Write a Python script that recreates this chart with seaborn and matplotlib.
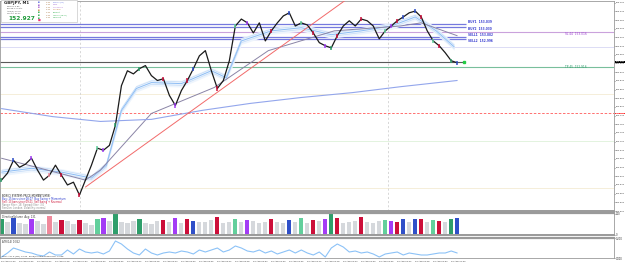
import numpy as np
import seaborn as sns
import matplotlib.pyplot as plt
from matplotlib.patches import Rectangle
from matplotlib.transforms import blended_transform_factory

sns.set_style("white")
plt.rcParams['font.family'] = ['DejaVu Sans']

# GBPJPY M1, one close every second minute
close = [152.589, 152.609, 152.646, 152.626, 152.635, 152.652, 152.618, 152.589, 152.603, 152.632,
         152.603, 152.575, 152.583, 152.546, 152.589, 152.632, 152.681, 152.675, 152.689, 152.747,
         152.861, 152.904, 152.895, 152.910, 152.919, 152.890, 152.876, 152.881, 152.833, 152.804,
         152.847, 152.876, 152.910, 152.947, 152.962, 152.904, 152.853, 152.876, 152.933, 153.033,
         153.053, 153.042, 153.013, 153.042, 152.990, 153.019, 153.042, 153.062, 153.071, 153.033,
         153.042, 153.036, 153.013, 152.985, 152.976, 152.970, 153.005, 153.033, 153.048, 153.033,
         153.053, 153.048, 153.033, 152.996, 153.019, 153.033, 153.048, 153.059, 153.071, 153.076,
         153.059, 153.019, 152.990, 152.976, 152.956, 152.933, 152.927]
minutes = np.arange(len(close)) * 2

fast_x = [0, 10, 20, 30, 35, 40, 45, 50, 60, 70, 75, 80, 90, 100, 110, 120, 130, 138, 145, 151]
fast_ma = [152.612, 152.623, 152.612, 152.595, 152.632, 152.790, 152.853, 152.870, 152.867, 152.904,
           152.884, 152.990, 153.019, 153.028, 153.008, 153.019, 153.033, 153.059, 153.019, 152.973]
mid_x = [0, 13, 28, 33, 50, 71, 89, 111, 133, 140, 152]
mid_ma = [152.652, 152.623, 152.589, 152.618, 152.781, 152.856, 152.962, 153.019, 153.033, 153.042, 153.005]
slow_x = [0, 17, 33, 50, 67, 83, 100, 117, 133, 152]
slow_ma = [152.795, 152.772, 152.758, 152.764, 152.790, 152.810, 152.827, 152.841, 152.858, 152.876]
trend_x = [28, 120]
trend_y = [152.569, 153.140]

buy_levels = [153.039, 153.030]
sell_levels = [153.002, 152.996]
sl_level = 153.016
tp_level = 152.916
bid = 152.930
alert_level = 152.781
lavender_level = 152.973
pale_levels = [152.838, 152.701, 152.566]
session_marks = [26.3, 129]

volume = [150, 120, 160, 110, 100, 150, 130, 105, 175, 120,
          140, 130, 100, 140, 110, 95, 150, 160, 130, 200,
          120, 115, 130, 150, 110, 100, 130, 140, 120, 160,
          110, 150, 130, 125, 120, 140, 165, 110, 120, 150,
          120, 140, 130, 115, 120, 150, 125, 110, 140, 120,
          160, 115, 140, 130, 150, 195, 160, 110, 125, 130,
          170, 120, 115, 130, 140, 135, 125, 145, 120, 150,
          145, 120, 140, 130, 125, 150, 160]
signal_bars = [0, 2, 5, 8, 10, 13, 16, 17, 19, 23, 27, 29, 31, 32, 36, 39, 41, 45, 48, 50,
               52, 54, 55, 56, 60, 64, 65, 66, 67, 69, 70, 72, 73, 75, 76]
signal_kinds = ['green', 'blue', 'purple', 'pink', 'red', 'red', 'teal', 'purple', 'green', 'green',
                'red', 'purple', 'red', 'blue', 'red', 'teal', 'purple', 'red', 'blue', 'teal',
                'red', 'purple', 'green', 'red', 'red', 'teal', 'purple', 'red', 'blue', 'blue',
                'red', 'teal', 'red', 'green', 'blue']

atr = [1, 5, 10, 8, 6, 5, 3, 2, 6, 3, 3, 8, 4, 9, 6, 5, 6, 4, 7, 17,
       14, 9, 5, 3, 9, 5, 3, 5, 6, 5, 7, 6, 4, 8, 6, 8, 10, 6, 8, 12,
       10, 7, 6, 8, 5, 7, 4, 6, 8, 5, 8, 5, 3, 6, 1, 10, 14, 11, 6, 7,
       5, 6, 4, 1, 4, 5, 6, 3, 5, 4, 3, 3, 4, 5, 5, 7, 5]

time_labels = ['23 Aug 07:30', '23 Aug 07:36', '23 Aug 07:42', '23 Aug 07:48', '23 Aug 07:54',
               '23 Aug 08:00', '23 Aug 08:06', '23 Aug 08:12', '23 Aug 08:18', '23 Aug 08:24',
               '23 Aug 08:30', '23 Aug 08:36', '23 Aug 08:42', '23 Aug 08:48', '23 Aug 08:54',
               '23 Aug 09:00', '23 Aug 09:06', '23 Aug 09:12', '23 Aug 09:18', '23 Aug 09:24',
               '23 Aug 09:30', '23 Aug 09:36', '23 Aug 09:42', '23 Aug 09:48', '23 Aug 09:54',
               '23 Aug 10:00']

palette = {'gray': '#d5d8dc', 'green': '#2f9e6b', 'teal': '#62cf9c', 'red': '#cc0f3a',
           'pink': '#f0899b', 'purple': '#a33cf5', 'blue': '#2f4fc8'}

W, H = 625, 266
fig = plt.figure(figsize=(6.25, 2.66), dpi=100)
fig.patch.set_facecolor('white')


def box(top, bottom):
    return [0, 1 - bottom / H, 614 / W, (bottom - top) / H]


ax = fig.add_axes(box(1, 211))
axv = fig.add_axes(box(213, 235), sharex=ax)
axo = fig.add_axes(box(238, 258), sharex=ax)

# --- main price panel ---
ax.axhline(lavender_level, color='#dcdcf5', lw=0.7, zorder=1)
for y, c in zip(pale_levels, ['#f5eed9', '#e3f3de', '#f5eed9']):
    ax.axhline(y, color=c, lw=0.7, zorder=1)
for m in session_marks:
    ax.axvline(m, color='#c8c8c8', lw=0.5, ls=(0, (3, 3)), zorder=1)
for y in buy_levels + sell_levels:
    ax.hlines(y, -1, 155, color='#7579de', lw=0.9, zorder=2)
ax.axhline(sl_level, color='#caa2dc', lw=0.8, zorder=2)
ax.axhline(tp_level, color='#79bf9c', lw=0.8, zorder=2)
ax.axhline(alert_level, color='#ff5a5a', lw=0.6, ls=(0, (3, 2)), zorder=2)
ax.hlines(bid, -1, 154.3, color='#5a5a5a', lw=0.8, zorder=2)

band = 0.005
ax.fill_between(fast_x, np.array(fast_ma) - 2 * band, np.array(fast_ma) + 2 * band,
                color='#eef5fd', lw=0, zorder=2)
sns.lineplot(x=fast_x, y=np.array(fast_ma) + band, ax=ax, color='#c4dbf7', lw=0.5, zorder=3)
sns.lineplot(x=fast_x, y=np.array(fast_ma) - band, ax=ax, color='#c4dbf7', lw=0.5, zorder=3)
sns.lineplot(x=fast_x, y=fast_ma, ax=ax, color='#8dbdf4', lw=0.7, zorder=3)
sns.lineplot(x=mid_x, y=mid_ma, ax=ax, color='#8a84a6', lw=0.7, zorder=3)
sns.lineplot(x=slow_x, y=slow_ma, ax=ax, color='#93a6ec', lw=0.8, zorder=3)
sns.lineplot(x=trend_x, y=trend_y, ax=ax, color='#f26a6a', lw=0.7, zorder=3)
sns.lineplot(x=minutes, y=close, ax=ax, color='#1a1a1a', lw=0.9, zorder=4)
for i, k in zip(signal_bars, signal_kinds):
    ax.vlines(minutes[i], close[i] - 0.006, close[i] + 0.006, color=palette[k], lw=1.1, zorder=5)
ax.plot([154.3], [bid], 's', color='#22cc44', ms=2, zorder=6)

ax.set_xlim(-0.5, 204.3)
ax.set_ylim(152.500, 153.105)
ax.yaxis.tick_right()
ticks = np.arange(152.500, 153.101, 0.025)
ax.set_yticks(ticks)
ax.set_yticklabels([f'{t:.3f}' for t in ticks])
ax.tick_params(axis='y', labelsize=1.6, length=1, width=0.4, pad=0.4, colors='#333333')
ax.tick_params(axis='x', labelbottom=False, length=0)
ax.set_xlabel('')
ax.set_ylabel('')

tr = blended_transform_factory(ax.transAxes, ax.transData)
ax.text(1.0025, bid, f'{bid:.3f}', transform=tr, fontsize=1.6, color='white', va='center',
        bbox=dict(boxstyle='square,pad=0.2', fc='black', ec='none'))
ax.text(1.0025, alert_level, f'{alert_level:.3f}', transform=tr, fontsize=1.6, color='white',
        va='center', bbox=dict(boxstyle='square,pad=0.2', fc='#ff2a2a', ec='none'))

ax.text(155.7, buy_levels[0], 'BUY1  153.039', fontsize=2.1, color='#3a3fd0', va='bottom', fontweight='bold')
ax.text(155.7, buy_levels[1], 'BUY2  153.030', fontsize=2.1, color='#3a3fd0', va='top', fontweight='bold')
ax.text(155.7, sell_levels[0], 'SELL1  153.002', fontsize=2.1, color='#3a3fd0', va='bottom', fontweight='bold')
ax.text(155.7, sell_levels[1], 'SELL2  152.996', fontsize=2.1, color='#3a3fd0', va='top', fontweight='bold')
ax.text(188, sl_level, 'SL 44  153.016', fontsize=2.1, color='#9b3fd0', va='top')
ax.text(188, tp_level, 'TP 45  152.916', fontsize=2.1, color='#2a9a6a', va='center')

# signal legend block bottom-left of the main panel
info_lines = [('BOX(C) SYSTEM: PRICE-MOMENTUM(S)', '#111111'),
              ('Buy: 15 bars since 08:07  Buy Swing + Momentum', '#2233cc'),
              ('Sell: 13 bars since 09:21  Sell Swing + Reversal', '#cc1133'),
              ('Range filter: 18  Spread filter: 3.0', '#888888'),
              ('Session: London  Volatility: normal', '#888888')]
for j, (t, c) in enumerate(info_lines):
    fig.text(2 / W, 1 - (196 + j * 3) / H, t, fontsize=1.8, color=c, va='center')

# info box top-left
fig.add_artist(Rectangle((0.5 / W, 1 - 22 / H), 76 / W, 21.5 / H, transform=fig.transFigure,
                         fc='white', ec='#bbbbbb', lw=0.4, zorder=10))
fig.text(4 / W, 1 - 3 / H, 'GBPJPY, M1', fontsize=2.8, fontweight='bold', zorder=11, va='center')
for j, t in enumerate(['Spread: 2.80', 'Range: 57.5 pts', 'ADR(5): 132.8', 'Candle: 00:42']):
    fig.text(7 / W, 1 - (6.3 + j * 2.4) / H, t, fontsize=1.4, color='#444444', zorder=11, va='center')
fig.text(8 / W, 1 - 18.8 / H, '152.927', fontsize=4.2, fontweight='bold', color='#1f9a3a',
         zorder=11, va='center')
sess = [('00:00', 'Sydney (22)', '#5566dd'), ('02:00', 'Tokyo', '#9955cc'),
        ('03:00', 'Hong Kong', '#aa66cc'), ('03:30', 'Shanghai', '#cc8844'),
        ('09:00', 'Frankfurt', '#22aa44'), ('10:00', 'London (18:11)', '#22aa44'),
        ('15:00', 'New York', '#22aa44')]
for j, (h, n, c) in enumerate(sess):
    yy = 1 - (2.2 + j * 2.6) / H
    fig.text(38 / W, yy, '■', fontsize=1.3, color=c, zorder=11, va='center')
    fig.text(46 / W, yy, h, fontsize=1.3, color='#aa7744', zorder=11, va='center')
    fig.text(53 / W, yy, n, fontsize=1.3, color=c, zorder=11, va='center')
fig.text(38 / W, 1 - 20 / H, '■', fontsize=2.2, color='#ee3377', zorder=11, va='center')

# --- volume panel ---
vcols = ['gray'] * len(volume)
for i, k in zip(signal_bars, signal_kinds):
    vcols[i] = k
axv.bar(minutes, volume, width=1.4, color=[palette[c] for c in vcols], lw=0)
axv.set_ylim(0, 205)
axv.yaxis.tick_right()
axv.set_yticks([0, 200])
axv.set_yticklabels(['0', '200'])
axv.tick_params(axis='y', labelsize=1.8, length=1, width=0.4, pad=0.5, colors='#333333')
axv.tick_params(axis='x', labelbottom=False, length=0)
axv.text(0.004, 0.93, 'DirectionVolume  Avg: 131', transform=axv.transAxes, fontsize=1.8,
         va='top', color='#333333')

# --- oscillator panel ---
sns.lineplot(x=minutes, y=atr, ax=axo, color='#8cc2f7', lw=0.8)
axo.set_ylim(0, 20)
axo.yaxis.tick_right()
axo.set_yticks([0, 20])
axo.set_yticklabels(['0.000', '0.200'])
axo.tick_params(axis='y', labelsize=1.8, length=1, width=0.4, pad=0.5, colors='#333333')
axo.text(0.004, 0.92, 'ATR(14) 0.052', transform=axo.transAxes, fontsize=1.8, va='top', color='#333333')
axo.text(0.004, 0.06, 'SETA ALL 5 (M1) 0.052  Price/Volume Difference: 0.038', transform=axo.transAxes,
         fontsize=1.6, va='bottom', color='#333333')
axo.set_xticks(np.arange(0, 151, 6))
axo.set_xticklabels(time_labels, ha='left')
axo.tick_params(axis='x', labelsize=1.5, length=1, width=0.4, pad=0.8, colors='#333333')
for a in (axv, axo):
    a.set_xlabel('')
    a.set_ylabel('')

for a in (ax, axv, axo):
    for s in a.spines.values():
        s.set_color('#9a9a9a')
        s.set_linewidth(0.6)
axv.spines['top'].set_linewidth(1.6)
axo.spines['top'].set_linewidth(1.6)
ax.spines['bottom'].set_linewidth(1.4)
axv.spines['bottom'].set_linewidth(1.4)

fig.savefig('out.png', dpi=100)
